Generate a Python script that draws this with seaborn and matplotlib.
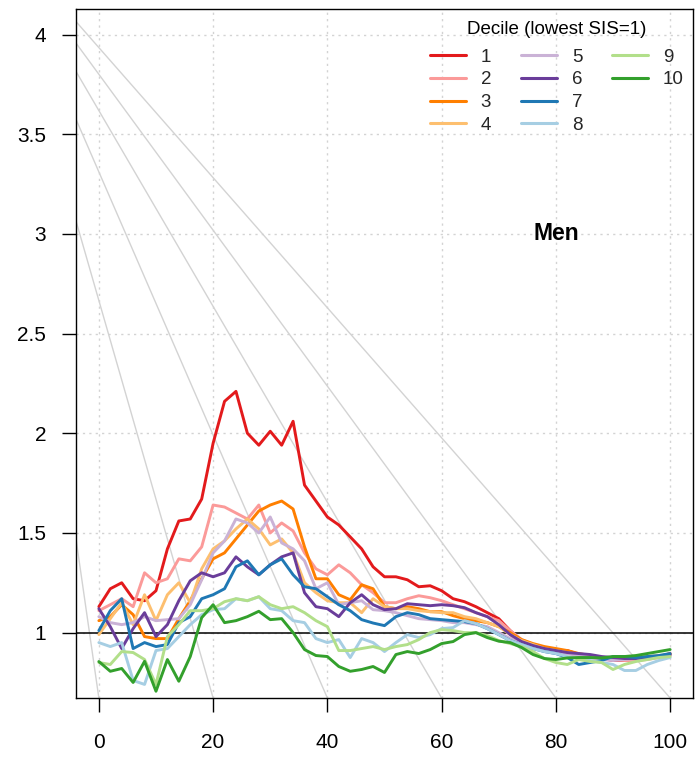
import numpy as np
import pandas as pd
import matplotlib
matplotlib.use("Agg")
import matplotlib.pyplot as plt
from matplotlib.lines import Line2D
import seaborn as sns

# Age axis (every 2 years)
ages = list(range(0, 101, 2))

# Relative rate by SIS decile, men
decile_1 = [1.13, 1.22, 1.25, 1.17, 1.16, 1.21, 1.42, 1.56, 1.57, 1.67,
            1.95, 2.16, 2.21, 2.00, 1.94, 2.01, 1.94, 2.06, 1.74, 1.66,
            1.58, 1.54, 1.48, 1.42, 1.33, 1.28, 1.28, 1.265, 1.23, 1.235,
            1.21, 1.17, 1.155, 1.13, 1.10, 1.07, 1.01, 0.96, 0.935, 0.92,
            0.91, 0.91, 0.89, 0.88, 0.87, 0.86, 0.86, 0.865, 0.87, 0.88, 0.895]
decile_2 = [1.11, 1.14, 1.17, 1.13, 1.30, 1.25, 1.27, 1.37, 1.36, 1.43,
            1.64, 1.63, 1.60, 1.57, 1.64, 1.50, 1.55, 1.51, 1.40, 1.32,
            1.29, 1.34, 1.30, 1.24, 1.20, 1.15, 1.15, 1.17, 1.185, 1.175,
            1.16, 1.14, 1.12, 1.10, 1.08, 1.06, 1.01, 0.965, 0.94, 0.92,
            0.905, 0.895, 0.885, 0.875, 0.87, 0.865, 0.86, 0.86, 0.865, 0.875, 0.89]
decile_3 = [1.06, 1.08, 1.14, 1.09, 0.98, 0.97, 0.97, 1.07, 1.16, 1.27,
            1.37, 1.40, 1.47, 1.54, 1.61, 1.64, 1.66, 1.62, 1.43, 1.27,
            1.27, 1.19, 1.165, 1.24, 1.22, 1.13, 1.12, 1.13, 1.12, 1.105,
            1.105, 1.085, 1.07, 1.06, 1.05, 1.03, 1.00, 0.965, 0.945, 0.93,
            0.92, 0.91, 0.895, 0.885, 0.875, 0.87, 0.87, 0.875, 0.875, 0.88, 0.89]
decile_4 = [0.99, 1.07, 1.15, 1.04, 1.19, 1.06, 1.19, 1.25, 1.15, 1.32,
            1.42, 1.46, 1.52, 1.57, 1.52, 1.44, 1.47, 1.40, 1.25, 1.20,
            1.16, 1.15, 1.15, 1.10, 1.17, 1.13, 1.12, 1.12, 1.11, 1.105,
            1.10, 1.10, 1.08, 1.07, 1.05, 1.03, 0.99, 0.96, 0.94, 0.92,
            0.91, 0.90, 0.89, 0.88, 0.875, 0.87, 0.87, 0.875, 0.88, 0.885, 0.89]
decile_5 = [1.08, 1.05, 1.04, 1.05, 1.08, 1.06, 1.065, 1.07, 1.14, 1.265,
            1.40, 1.46, 1.57, 1.55, 1.50, 1.58, 1.45, 1.42, 1.36, 1.22,
            1.25, 1.14, 1.15, 1.16, 1.115, 1.11, 1.10, 1.085, 1.07, 1.065,
            1.06, 1.05, 1.05, 1.04, 1.03, 1.00, 0.97, 0.95, 0.93, 0.91,
            0.90, 0.895, 0.885, 0.875, 0.865, 0.86, 0.865, 0.87, 0.875, 0.88, 0.885]
decile_6 = [1.12, 1.03, 0.92, 1.02, 1.10, 0.98, 1.04, 1.16, 1.26, 1.30,
            1.28, 1.30, 1.38, 1.33, 1.29, 1.34, 1.38, 1.40, 1.20, 1.13,
            1.12, 1.08, 1.15, 1.19, 1.14, 1.115, 1.12, 1.145, 1.14, 1.135,
            1.14, 1.135, 1.125, 1.10, 1.08, 1.04, 0.99, 0.955, 0.935, 0.92,
            0.91, 0.90, 0.895, 0.89, 0.88, 0.875, 0.87, 0.87, 0.875, 0.88, 0.89]
decile_7 = [1.01, 1.11, 1.17, 0.92, 0.95, 0.93, 0.94, 1.05, 1.08, 1.17,
            1.19, 1.22, 1.33, 1.36, 1.29, 1.34, 1.37, 1.29, 1.23, 1.22,
            1.18, 1.14, 1.11, 1.065, 1.048, 1.035, 1.08, 1.10, 1.09, 1.07,
            1.065, 1.06, 1.055, 1.045, 1.02, 0.99, 0.96, 0.94, 0.92, 0.905,
            0.895, 0.875, 0.84, 0.85, 0.86, 0.88, 0.88, 0.875, 0.88, 0.885, 0.895]
decile_8 = [0.95, 0.93, 0.95, 0.76, 0.74, 0.91, 0.92, 0.98, 1.04, 1.09,
            1.115, 1.12, 1.17, 1.16, 1.18, 1.12, 1.11, 1.06, 1.05, 0.97,
            0.95, 0.965, 0.875, 0.97, 0.95, 0.905, 0.95, 0.99, 0.975, 0.99,
            1.02, 1.025, 1.06, 1.045, 1.02, 0.99, 0.96, 0.94, 0.92, 0.905,
            0.895, 0.88, 0.87, 0.86, 0.85, 0.84, 0.81, 0.81, 0.84, 0.86, 0.875]
decile_9 = [0.85, 0.84, 0.905, 0.90, 0.865, 0.74, 0.98, 1.04, 1.11, 1.11,
            1.12, 1.155, 1.17, 1.16, 1.18, 1.14, 1.12, 1.13, 1.10, 1.06,
            1.03, 0.91, 0.91, 0.92, 0.93, 0.915, 0.93, 0.94, 0.965, 1.00,
            1.015, 1.01, 1.00, 1.00, 0.985, 0.96, 0.945, 0.93, 0.905, 0.87,
            0.85, 0.84, 0.865, 0.855, 0.85, 0.815, 0.84, 0.855, 0.865, 0.875, 0.88]
decile_10 = [0.855, 0.806, 0.82, 0.75, 0.856, 0.706, 0.865, 0.756, 0.88, 1.075,
             1.14, 1.05, 1.06, 1.08, 1.107, 1.065, 1.07, 1.00, 0.915, 0.885,
             0.88, 0.83, 0.806, 0.815, 0.83, 0.80, 0.89, 0.905, 0.895, 0.915,
             0.945, 0.955, 0.99, 1.00, 0.975, 0.957, 0.95, 0.925, 0.89, 0.87,
             0.865, 0.873, 0.875, 0.875, 0.873, 0.88, 0.88, 0.885, 0.895, 0.905, 0.915]

deciles = ["1", "2", "3", "4", "5", "6", "7", "8", "9", "10"]
series = [decile_1, decile_2, decile_3, decile_4, decile_5,
          decile_6, decile_7, decile_8, decile_9, decile_10]

# ColorBrewer "Paired", reordered so each dark/light pair sits together
paired = sns.color_palette("Paired", 12)
colors = [paired[i] for i in [5, 4, 7, 6, 8, 9, 1, 0, 2, 3]]

x_ticks = [0, 20, 40, 60, 80, 100]
y_ticks = [1, 1.5, 2, 2.5, 3, 3.5, 4]
y_tick_labels = ["1", "1.5", "2", "2.5", "3", "3.5", "4"]

# Light guide lines: height at the left edge and where they meet the floor
fan_left_y = [1.47, 3.065, 3.575, 3.815, 3.957, 4.065]
fan_floor_x = [0, 20, 40, 60, 80, 100]

x_limits = (-4, 104)
y_limits = (0.672, 4.128)

sns.set_style("white")
plt.rcParams["font.family"] = ["Liberation Sans", "DejaVu Sans"]

fig = plt.figure(figsize=(6.96, 7.59), dpi=100)
ax = fig.add_axes([76 / 696, 1 - 698 / 759, (693 - 76) / 696, (698 - 9) / 759])

df = pd.DataFrame({
    "age": np.tile(ages, len(deciles)),
    "ratio": np.concatenate(series),
    "decile": np.repeat(deciles, len(ages)),
})

# background grid
for xv in x_ticks:
    ax.axvline(xv, color="#D3D3D3", lw=1.0, ls=(0, (1.6, 3)), zorder=0)
for yv in y_ticks:
    ax.axhline(yv, color="#D3D3D3", lw=1.0, ls=(0, (1.6, 3)), zorder=0)

# guide fan
for yl, xf in zip(fan_left_y, fan_floor_x):
    ax.plot([x_limits[0], xf], [yl, y_limits[0]], color="#D3D3D3", lw=1.0, zorder=1)

ax.axhline(1, color="black", lw=1.1, zorder=2)

sns.lineplot(data=df, x="age", y="ratio", hue="decile", hue_order=deciles,
             palette=colors, estimator=None, sort=False, lw=2.1,
             legend=False, ax=ax, zorder=3)

ax.set_xlim(*x_limits)
ax.set_ylim(*y_limits)
ax.set_xlabel("")
ax.set_ylabel("")
ax.set_xticks(x_ticks)
ax.set_xticklabels([str(v) for v in x_ticks])
ax.set_yticks(y_ticks)
ax.set_yticklabels(y_tick_labels)
ax.tick_params(axis="both", direction="out", length=10, width=1.0,
               colors="black", labelsize=15, bottom=True, left=True)
ax.tick_params(axis="x", pad=15)
ax.tick_params(axis="y", pad=11.5)
for sp in ax.spines.values():
    sp.set_visible(True)
    sp.set_color("black")
    sp.set_linewidth(1.0)

ax.text(80, 3.0, "Men", ha="center", va="center", fontsize=16.5,
        fontweight="bold", color="black")

# Legend: three columns filled top to bottom (4, 4, 2)
handles = [Line2D([0], [0], color=c, lw=2.2) for c in colors]
labels = list(deciles)
handles += [Line2D([0], [0], color="none", lw=0)] * 2
labels += ["", ""]
leg = ax.legend(handles, labels, ncol=3,
                loc="upper center", bbox_to_anchor=(0.7796, 0.9427),
                frameon=False, fontsize=13.5,
                handlelength=1.9, handletextpad=0.8, columnspacing=1.6,
                labelspacing=0.3, borderpad=0, borderaxespad=0)
ax.text(0.7796, 1 - 20 / 689, "Decile (lowest SIS=1)", transform=ax.transAxes,
        ha="center", va="center", fontsize=13.5, color="black")

fig.savefig("out.png", dpi=100)
